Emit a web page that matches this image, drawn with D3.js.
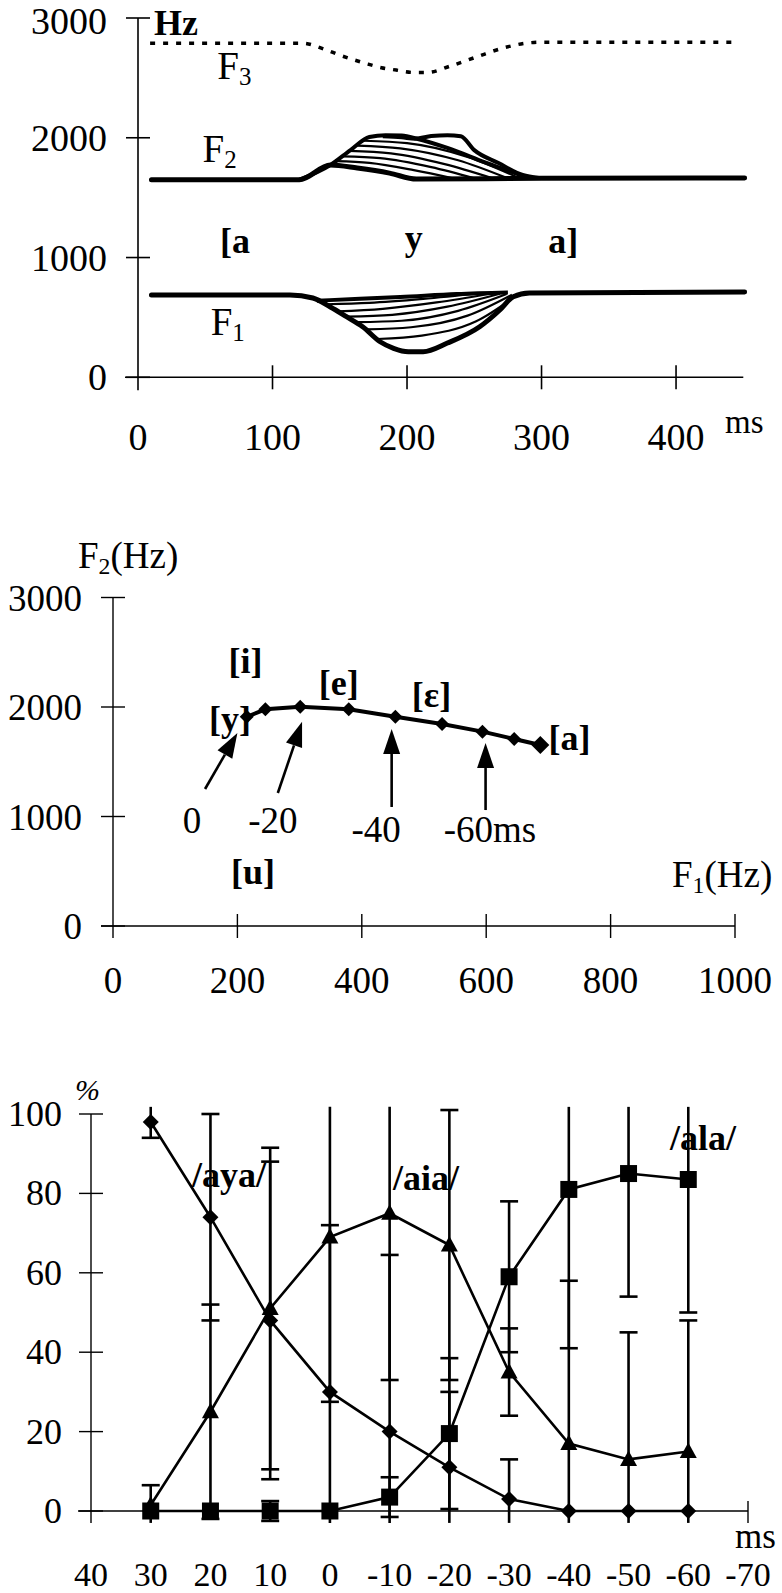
<!DOCTYPE html>
<html>
<head>
<meta charset="utf-8">
<script src="https://cdn.jsdelivr.net/npm/d3@7"></script>
<style>
  body { margin: 0; background: #fff; }
  svg { display: block; }
  text { font-family: "Liberation Serif", "Times New Roman", serif; fill: #000; }
</style>
</head>
<body>
<svg id="chart" width="782" height="1593"></svg>
<script>
// ---------- top panel: formant tracks of [aya] (ms, Hz)
const topXTicks = [0, 100, 200, 300, 400];
const topYTicks = [0, 1000, 2000, 3000];
const f3Track = [[9,2790],[122,2790],[139,2738],[150,2690],[161,2649],[171,2615],[181,2585],[192,2565],[205,2545],[215,2545],[232,2598],[252,2676],[271,2748],[291,2793],[300,2798],[442,2798]];
const f2Track = [[10,1650],[120,1650],[143,1772],[163,1747],[187,1705],[207,1655],[300,1662],[451,1665]];
const f2Fan = [
  [[120,1650],[143,1772],[158,1897],[172,2006],[184,2022],[196,2018],[208,1990],[230,1915],[258,1795],[290,1665]],
  [[182,2012],[196,2004],[206,1992],[218,2014],[230,2022],[240,2012],[250,1897],[268,1789],[286,1689],[298,1665]],
  [[147,1805],[172,1790],[205,1730],[235,1660]],
  [[152,1845],[180,1830],[218,1755],[250,1662]],
  [[157,1890],[188,1870],[228,1780],[263,1664]],
  [[163,1935],[195,1912],[238,1812],[274,1665]],
  [[168,1975],[200,1955],[245,1840],[283,1665]]
];
const f1Track = [[10,688],[113,688],[130,662],[143,587],[155,506],[167,422],[180,297],[190,242],[201,214],[212,214],[230,286],[254,422],[269,562],[279,673],[291,704],[451,712]];
const f1Fan = [
  [[133,640],[165,655],[195,670],[237,695],[275,708]],
  [[140,610],[172,622],[212,655],[255,702]],
  [[148,550],[182,572],[222,625],[263,700]],
  [[155,506],[189,522],[230,590],[269,698]],
  [[162,460],[196,472],[238,555],[274,695]],
  [[170,400],[203,418],[245,515],[278,690]],
  [[178,320],[211,348],[251,465],[282,688]]
];

// ---------- middle panel: F1/F2 trajectory (Hz)
const planeXTicks = [0, 200, 400, 600, 800, 1000];
const planeYTicks = [0, 1000, 2000, 3000];
const trajF1 = [215, 245, 301, 379, 454, 529, 594, 645, 687];
const trajF2 = [1911, 1979, 2003, 1979, 1911, 1845, 1775, 1708, 1653];
const vowelLabels = ["[i]", "[e]", "[y]", "[ε]", "[a]", "[u]"];
const vowelPos = [[213,2311],[363,2110],[188,1781],[512,2000],[734,1607],[225,384]];
const arrowLabels = ["0", "-20", "-40", "-60ms"];
const arrowTail = [[148,1251],[265,1215],[448,1087],[599,1059]];
const arrowTip = [[200,1763],[304,1866],[448,1799],[599,1671]];
const arrowLabelPos = [[127,849],[257,849],[423,767],[606,767]];

// ---------- bottom panel: identification scores (%)
const timeTicks = [40, 30, 20, 10, 0, -10, -20, -30, -40, -50, -60, -70];
const pctTicks = [0, 20, 40, 60, 80, 100];
const timeMs = [30, 20, 10, 0, -10, -20, -30, -40, -50, -60];
const ayaPct = [98, 74, 48, 30, 20, 11, 3, 0, 0, 0];
const ayaErr = [4, 26, 40, 42, 44.5, 19, 10, 0, 0, 0];
const aiaPct = [1.5, 25, 51, 69, 75, 67, 35, 17, 13, 15];
const aiaErr = [5, 27, 40.5, 41.5, 42, 34, 11, 41, 32, 33];
const alaPct = [0, 0, 0, 0, 3.5, 19.5, 59, 81, 85, 83.5];
const alaErr = [0, 0, 2.5, 0, 5, 19, 19, 40, 31, 33.5];

const svg = d3.select("#chart");

function subLabel(g, x, y, main, sub, size, bold) {
  const t = g.append("text").attr("x", x).attr("y", y)
    .attr("font-size", size).attr("font-weight", bold ? "bold" : "normal");
  t.append("tspan").text(main);
  t.append("tspan").attr("font-size", size * 0.64).attr("dy", size * 0.16).text(sub);
  return t;
}

// =============== TOP PANEL ===============
const xT = d3.scaleLinear().domain([0, 450]).range([138, 743.3]);
const yT = d3.scaleLinear().domain([0, 3000]).range([377.3, 18]);
const topG = svg.append("g");

topG.append("line").attr("x1", xT(0)).attr("x2", xT(0)).attr("y1", yT(3000)).attr("y2", yT(0) + 13)
  .attr("stroke", "#000").attr("stroke-width", 1.6);
topG.append("line").attr("x1", xT(0) - 13).attr("x2", xT(450)).attr("y1", yT(0)).attr("y2", yT(0))
  .attr("stroke", "#000").attr("stroke-width", 1.6);
topG.selectAll(".yt").data(topYTicks).join("line")
  .attr("x1", xT(0) - 12).attr("x2", xT(0) + 12).attr("y1", d => yT(d)).attr("y2", d => yT(d))
  .attr("stroke", "#000").attr("stroke-width", 1.6);
topG.selectAll(".xt").data(topXTicks.slice(1)).join("line")
  .attr("x1", d => xT(d)).attr("x2", d => xT(d)).attr("y1", yT(0) - 12).attr("y2", yT(0) + 12)
  .attr("stroke", "#000").attr("stroke-width", 1.6);
topG.selectAll(".yl").data(topYTicks).join("text")
  .attr("x", 107).attr("y", d => Math.max(yT(d) + 13, 34)).attr("text-anchor", "end").attr("font-size", 38)
  .text(d => d);
topG.selectAll(".xl").data(topXTicks).join("text")
  .attr("x", d => xT(d)).attr("y", 450).attr("text-anchor", "middle").attr("font-size", 38)
  .text(d => d);
topG.append("text").attr("x", 725).attr("y", 433).attr("font-size", 33).text("ms");
topG.append("text").attr("x", 154).attr("y", 35).attr("font-size", 36).attr("font-weight", "bold").text("Hz");

const lineT = d3.line().x(d => xT(d[0])).y(d => yT(d[1])).curve(d3.curveMonotoneX);

topG.append("path").attr("d", lineT(f3Track)).attr("fill", "none").attr("stroke", "#000")
  .attr("stroke-width", 3.5).attr("stroke-dasharray", "5,8");

f2Fan.forEach((c, i) => {
  topG.append("path").attr("d", lineT(c)).attr("fill", "none").attr("stroke", "#000")
    .attr("stroke-width", i < 2 ? 4 : 2.2);
});
topG.append("path").attr("d", lineT(f2Track)).attr("fill", "none").attr("stroke", "#000")
  .attr("stroke-width", 5).attr("stroke-linecap", "round");

f1Fan.forEach((c, i) => {
  topG.append("path").attr("d", lineT(c)).attr("fill", "none").attr("stroke", "#000")
    .attr("stroke-width", i < 1 ? 4 : 2.2);
});
topG.append("path").attr("d", lineT(f1Track)).attr("fill", "none").attr("stroke", "#000")
  .attr("stroke-width", 5).attr("stroke-linecap", "round");

subLabel(topG, xT(59), yT(2490), "F", "3", 39, false);
subLabel(topG, xT(48), yT(1797), "F", "2", 39, false);
subLabel(topG, xT(54), yT(353), "F", "1", 39, false);
topG.append("text").attr("x", xT(61)).attr("y", yT(1037)).attr("font-size", 36).attr("font-weight", "bold").text("[a");
topG.append("text").attr("x", xT(205)).attr("y", yT(1062)).attr("text-anchor", "middle").attr("font-size", 36).attr("font-weight", "bold").text("y");
topG.append("text").attr("x", xT(305)).attr("y", yT(1037)).attr("font-size", 36).attr("font-weight", "bold").text("a]");

// =============== MIDDLE PANEL ===============
const xM = d3.scaleLinear().domain([0, 1000]).range([113, 735]);
const yM = d3.scaleLinear().domain([0, 3000]).range([926, 597.5]);
const midG = svg.append("g");

midG.append("line").attr("x1", xM(0)).attr("x2", xM(0)).attr("y1", yM(3000)).attr("y2", yM(0) + 12)
  .attr("stroke", "#000").attr("stroke-width", 1.4);
midG.append("line").attr("x1", xM(0) - 12).attr("x2", xM(1000)).attr("y1", yM(0)).attr("y2", yM(0))
  .attr("stroke", "#000").attr("stroke-width", 1.4);
midG.selectAll(".yt").data(planeYTicks).join("line")
  .attr("x1", xM(0) - 12).attr("x2", xM(0) + 12).attr("y1", d => yM(d)).attr("y2", d => yM(d))
  .attr("stroke", "#000").attr("stroke-width", 1.4);
midG.selectAll(".xt").data(planeXTicks.slice(1)).join("line")
  .attr("x1", d => xM(d)).attr("x2", d => xM(d)).attr("y1", yM(0) - 12).attr("y2", yM(0) + 12)
  .attr("stroke", "#000").attr("stroke-width", 1.4);
midG.selectAll(".yl").data(planeYTicks).join("text")
  .attr("x", 82).attr("y", d => yM(d) + 13).attr("text-anchor", "end").attr("font-size", 37)
  .text(d => d);
midG.selectAll(".xl").data(planeXTicks).join("text")
  .attr("x", d => xM(d)).attr("y", 993).attr("text-anchor", "middle").attr("font-size", 37)
  .text(d => d);

const f2lab = subLabel(midG, 78, 568, "F", "2", 37, false);
f2lab.append("tspan").attr("dy", -37 * 0.16).text("(Hz)");
const f1lab = subLabel(midG, 672, 887, "F", "1", 37, false);
f1lab.append("tspan").attr("dy", -37 * 0.16).text("(Hz)");

const traj = trajF1.map((f, i) => [f, trajF2[i]]);
midG.append("path")
  .attr("d", d3.line().x(d => xM(d[0])).y(d => yM(d[1]))(traj))
  .attr("fill", "none").attr("stroke", "#000").attr("stroke-width", 4);
midG.selectAll(".pt").data(traj).join("path")
  .attr("d", (d, i) => {
    const r = i === traj.length - 1 ? 9 : 7;
    const x = xM(d[0]), y = yM(d[1]);
    return `M${x},${y - r}L${x + r},${y}L${x},${y + r}L${x - r},${y}Z`;
  })
  .attr("fill", "#000");

midG.selectAll(".vl").data(vowelLabels).join("text")
  .attr("x", (d, i) => xM(vowelPos[i][0])).attr("y", (d, i) => yM(vowelPos[i][1]))
  .attr("text-anchor", "middle").attr("font-size", 36).attr("font-weight", "bold")
  .text(d => d);

arrowLabels.forEach((lab, i) => {
  const x0 = xM(arrowTail[i][0]), y0 = yM(arrowTail[i][1]);
  const x1 = xM(arrowTip[i][0]), y1 = yM(arrowTip[i][1]);
  const dx = x1 - x0, dy = y1 - y0, len = Math.hypot(dx, dy);
  const ux = dx / len, uy = dy / len, hl = 25, hw = 8.5;
  const bx = x1 - ux * hl, by = y1 - uy * hl;
  midG.append("line").attr("x1", x0).attr("y1", y0).attr("x2", bx).attr("y2", by)
    .attr("stroke", "#000").attr("stroke-width", 2.6);
  midG.append("path")
    .attr("d", `M${x1},${y1}L${bx - uy * hw},${by + ux * hw}L${bx + uy * hw},${by - ux * hw}Z`)
    .attr("fill", "#000");
  midG.append("text").attr("x", xM(arrowLabelPos[i][0])).attr("y", yM(arrowLabelPos[i][1]))
    .attr("text-anchor", "middle").attr("font-size", 37).text(lab);
});

// =============== BOTTOM PANEL ===============
const xB = d3.scaleLinear().domain([40, -70]).range([91, 748]);
const yB = d3.scaleLinear().domain([0, 100]).range([1511, 1114]);
const clipLo = -3, clipHi = 101.8;
const botG = svg.append("g");

botG.append("line").attr("x1", xB(40)).attr("x2", xB(40)).attr("y1", yB(100)).attr("y2", yB(clipLo))
  .attr("stroke", "#000").attr("stroke-width", 1.4);
botG.append("line").attr("x1", xB(40) - 13).attr("x2", xB(-70)).attr("y1", yB(0)).attr("y2", yB(0))
  .attr("stroke", "#000").attr("stroke-width", 1.4);
botG.append("line").attr("x1", xB(-70)).attr("x2", xB(-70)).attr("y1", yB(0) - 10).attr("y2", yB(clipLo))
  .attr("stroke", "#000").attr("stroke-width", 1.4);
botG.selectAll(".yt").data(pctTicks).join("line")
  .attr("x1", xB(40) - 12).attr("x2", xB(40) + 12).attr("y1", d => yB(d)).attr("y2", d => yB(d))
  .attr("stroke", "#000").attr("stroke-width", 1.4);
botG.selectAll(".yl").data(pctTicks).join("text")
  .attr("x", 62).attr("y", d => yB(d) + 12).attr("text-anchor", "end").attr("font-size", 36)
  .text(d => d);
botG.selectAll(".xl").data(timeTicks).join("text")
  .attr("x", d => xB(d)).attr("y", 1586).attr("text-anchor", "middle").attr("font-size", 34)
  .text(d => d);
botG.append("text").attr("x", 735).attr("y", 1548).attr("font-size", 35).text("ms");
botG.append("text").attr("x", 75).attr("y", 1100).attr("font-size", 30).attr("font-style", "italic").text("%");

const series = [
  { name: "/aya/", vals: ayaPct, err: ayaErr, shape: "diamond" },
  { name: "/aia/", vals: aiaPct, err: aiaErr, shape: "triangle" },
  { name: "/ala/", vals: alaPct, err: alaErr, shape: "square" }
];

// error bars
series.forEach(s => {
  s.vals.forEach((v, i) => {
    const e = s.err[i];
    if (!e) return;
    const x = xB(timeMs[i]);
    const lo = v - e, hi = v + e;
    botG.append("line").attr("x1", x).attr("x2", x)
      .attr("y1", yB(Math.max(lo, clipLo))).attr("y2", yB(Math.min(hi, clipHi)))
      .attr("stroke", "#000").attr("stroke-width", 2.6);
    [lo, hi].forEach(b => {
      if (b < clipLo || b > clipHi) return;
      botG.append("line").attr("x1", x - 9).attr("x2", x + 9).attr("y1", yB(b)).attr("y2", yB(b))
        .attr("stroke", "#000").attr("stroke-width", 2.6);
    });
  });
});

const lineB = d3.line().x((d, i) => xB(timeMs[i])).y(d => yB(d));
series.forEach(s => {
  botG.append("path").attr("d", lineB(s.vals)).attr("fill", "none")
    .attr("stroke", "#000").attr("stroke-width", 2.6);
});

function marker(shape, x, y) {
  if (shape === "diamond") return `M${x},${y - 8}L${x + 8},${y}L${x},${y + 8}L${x - 8},${y}Z`;
  if (shape === "square") return `M${x - 8.5},${y - 8.5}h17v17h-17Z`;
  return `M${x},${y - 9}L${x + 8.5},${y + 6.5}L${x - 8.5},${y + 6.5}Z`;
}
series.forEach(s => {
  botG.selectAll(null).data(s.vals).join("path")
    .attr("d", (d, i) => marker(s.shape, xB(timeMs[i]), yB(d)))
    .attr("fill", "#000");
});

botG.append("text").attr("x", 192).attr("y", 1187).attr("font-size", 36).attr("font-weight", "bold").text("/aya/");
botG.append("text").attr("x", 393).attr("y", 1190).attr("font-size", 36).attr("font-weight", "bold").text("/aia/");
botG.append("text").attr("x", 670).attr("y", 1150).attr("font-size", 36).attr("font-weight", "bold").text("/ala/");
</script>
</body>
</html>
